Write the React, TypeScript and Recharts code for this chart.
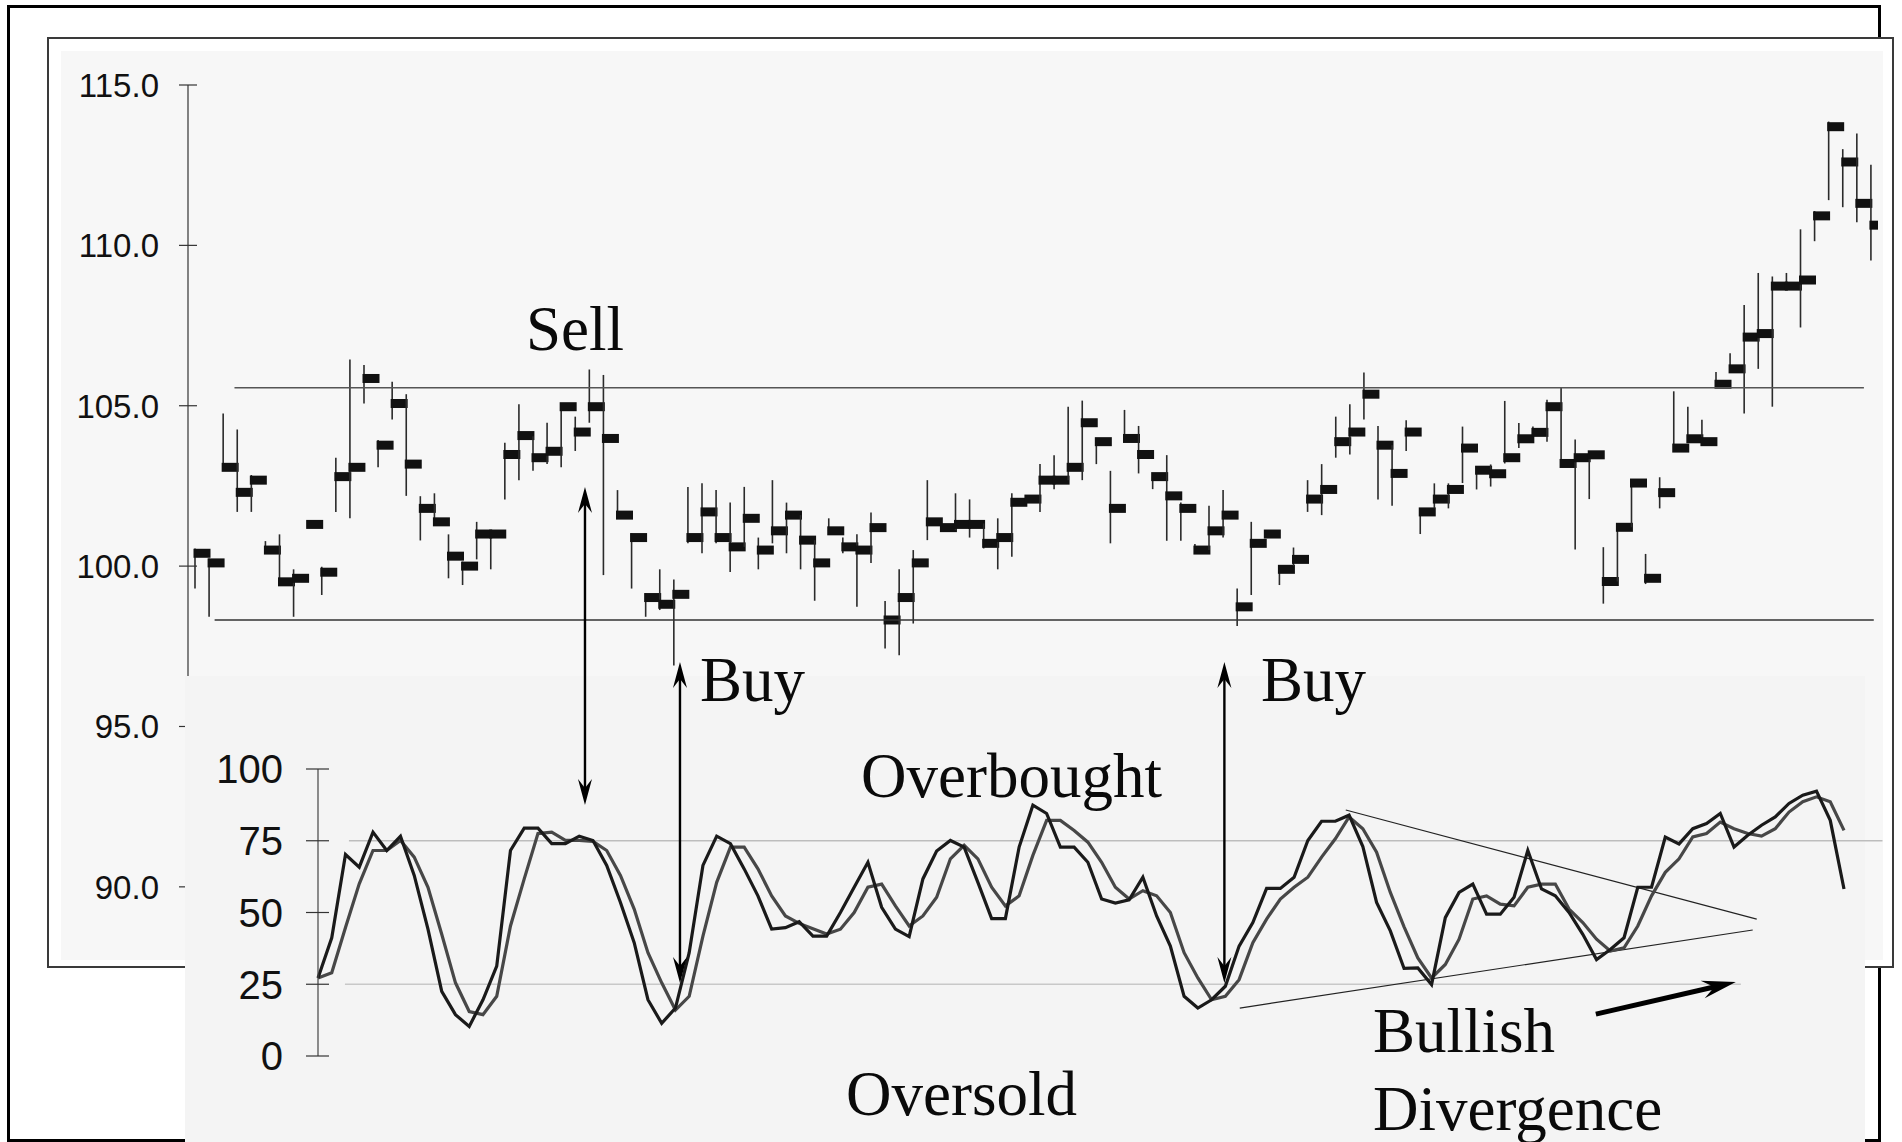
import React from 'react'
import { ComposedChart, Bar, LineChart, Line, XAxis, YAxis, ReferenceLine } from 'recharts'

// daily price bars: high / low / close
const HIGHS = [
  100.55, 100.24, 104.76, 104.26, 102.84, 100.78, 100.99, 99.9, 101.4, 99.98,
  103.38, 106.44, 106.27, 103.93, 105.75, 105.36, 102.18, 102.27, 100.99, 100.14,
  101.38, 101.12, 103.85, 105.05, 104.05, 104.47, 104.97, 104.66, 106.13, 105.96,
  102.37, 101.02, 99.15, 99.9, 99.58, 102.47, 102.58, 102.37, 101.98, 102.47,
  100.89, 102.68, 101.98, 101.59, 100.81, 101.49, 100.89, 100.99, 101.67, 98.91,
  99.9, 100.5, 102.68, 101.3, 102.27, 102.08, 101.33, 101.49, 102.27, 102.15,
  103.18, 103.46, 104.97, 105.16, 103.88, 102.97, 104.87, 104.37, 102.79, 103.46,
  101.98, 100.69, 101.88, 102.37, 99.3, 101.38, 101.1, 99.9, 100.58, 102.68,
  103.18, 104.66, 105.05, 106.04, 104.37, 103.77, 104.55, 101.8, 102.58, 102.58,
  104.35, 103.12, 103.17, 105.15, 104.46, 104.35, 105.19, 105.56, 103.95, 103.58,
  100.59, 101.21, 102.59, 100.38, 102.77, 105.45, 104.97, 104.56, 106.05, 106.64,
  108.14, 109.14, 109.03, 109.14, 110.5, 111.07, 113.86, 113.0, 113.49, 112.51,
]
const LOWS = [
  99.3, 98.42, 103.08, 101.69, 101.69, 100.5, 99.51, 98.42, 101.2, 99.1,
  101.69, 101.49, 105.07, 103.08, 104.57, 102.19, 100.8, 101.38, 99.62, 99.41,
  100.21, 99.9, 102.08, 102.68, 102.97, 103.18, 103.08, 103.59, 104.47, 99.72,
  101.59, 99.3, 98.42, 98.63, 96.9, 100.71, 100.4, 100.71, 99.82, 100.6,
  99.9, 100.71, 100.4, 99.9, 98.92, 101.1, 100.4, 98.73, 100.1, 97.43,
  97.22, 98.21, 100.81, 101.1, 101.12, 100.89, 100.55, 99.9, 100.29, 102.0,
  101.69, 102.4, 102.68, 102.68, 103.18, 100.71, 103.98, 102.89, 102.4, 100.79,
  100.79, 100.5, 100.5, 100.89, 98.13, 99.1, 100.9, 99.41, 100.0, 101.69,
  101.59, 103.38, 103.48, 104.57, 102.08, 101.88, 103.59, 101.0, 101.8, 101.8,
  102.59, 102.39, 102.48, 103.2, 103.68, 104.17, 103.88, 103.2, 100.52, 102.09,
  98.83, 99.52, 101.21, 99.44, 101.8, 103.68, 103.95, 103.88, 105.67, 106.15,
  104.76, 106.15, 104.97, 108.73, 107.44, 110.13, 111.41, 111.19, 110.72, 109.53,
]
const CLOSES = [
  100.4, 100.1, 103.08, 102.3, 102.68, 100.5, 99.51, 99.62, 101.3, 99.81,
  102.79, 103.08, 105.85, 103.77, 105.07, 103.18, 101.8, 101.38, 100.31, 100.0,
  101.0, 101.0, 103.48, 104.07, 103.38, 103.58, 104.97, 104.18, 104.97, 103.98,
  101.59, 100.89, 99.02, 98.81, 99.12, 100.89, 101.69, 100.89, 100.6, 101.49,
  100.5, 101.1, 101.59, 100.81, 100.1, 101.1, 100.6, 100.5, 101.2, 98.32,
  99.02, 100.1, 101.38, 101.2, 101.3, 101.3, 100.71, 100.89, 101.99, 102.09,
  102.68, 102.68, 103.08, 104.47, 103.88, 101.8, 103.98, 103.48, 102.79, 102.19,
  101.8, 100.5, 101.1, 101.59, 98.73, 100.71, 101.0, 99.9, 100.21, 102.09,
  102.39, 103.88, 104.18, 105.36, 103.77, 102.89, 104.18, 101.69, 102.09, 102.39,
  103.68, 102.99, 102.88, 103.38, 103.97, 104.17, 104.97, 103.2, 103.38, 103.47,
  99.52, 101.21, 102.59, 99.62, 102.29, 103.68, 103.97, 103.88, 105.67, 106.15,
  107.14, 107.25, 108.73, 108.73, 108.92, 110.92, 113.7, 112.6, 111.31, 110.63,
]
const PRICE_TICKS = [90, 95, 100, 105, 110, 115]
const RESISTANCE = 105.56
const SUPPORT = 98.32

// stochastic oscillator: %K (black) and %D (grey)
const STOCH_K = [
  27.2, 41.2, 70.2, 65.8, 78.0, 71.6, 76.6, 62.9, 44.2, 22.5,
  14.4, 10.3, 19.6, 31.3, 71.6, 79.4, 79.4, 74.0, 74.0, 76.6,
  75.1, 66.4, 53.5, 39.5, 19.6, 11.4, 16.7, 36.0, 66.4, 76.6,
  74.0, 65.2, 55.8, 44.2, 44.7, 46.8, 41.8, 41.8, 50.0, 58.8,
  67.5, 51.8, 44.2, 41.6, 61.7, 71.4, 75.1, 72.8, 60.5, 47.9,
  47.9, 72.8, 87.4, 84.5, 72.8, 72.8, 67.5, 54.7, 53.3, 54.4,
  62.3, 48.8, 38.3, 20.8, 16.7, 19.6, 24.3, 38.3, 46.5, 58.4,
  58.4, 62.3, 75.1, 81.8, 81.8, 83.9, 73.0, 53.5, 43.6, 30.5,
  30.7, 24.9, 48.2, 57.0, 59.9, 49.4, 49.4, 55.3, 71.6, 58.2,
  55.8, 50.0, 42.4, 33.6, 37.1, 41.2, 58.8, 58.8, 76.3, 73.9,
  79.2, 81.0, 84.5, 72.8, 76.9, 80.4, 83.3, 88.0, 90.9, 92.3,
  82.1, 58.2,
]
const STOCH_D = [
  27.2, 29.0, 44.8, 60.0, 71.6, 71.6, 75.1, 69.3, 58.8, 42.4,
  25.5, 15.5, 14.4, 20.8, 45.3, 61.7, 77.5, 78.0, 75.1, 75.1,
  74.8, 71.6, 62.9, 51.2, 36.0, 25.5, 16.0, 20.8, 41.8, 60.5,
  72.8, 72.8, 65.2, 55.8, 48.8, 46.2, 44.3, 42.5, 44.2, 50.0,
  58.8, 59.9, 52.3, 45.3, 48.8, 55.3, 68.7, 73.4, 68.7, 58.8,
  52.3, 55.8, 69.9, 82.1, 82.1, 78.6, 74.5, 67.5, 58.8, 54.7,
  57.6, 55.8, 50.0, 36.0, 27.2, 19.6, 20.8, 26.6, 39.5, 47.7,
  54.7, 58.8, 62.3, 69.3, 75.7, 83.3, 79.2, 71.0, 57.0, 45.0,
  34.2, 27.2, 31.9, 40.7, 54.7, 55.8, 52.9, 52.3, 58.8, 59.9,
  59.9, 51.2, 46.5, 40.7, 36.6, 37.7, 45.3, 55.8, 64.0, 68.7,
  76.3, 77.5, 81.5, 79.2, 77.5, 76.6, 79.2, 85.0, 88.6, 90.3,
  88.6, 78.6,
]
const STOCH_TICKS = [0, 25, 50, 75, 100]

// annotation segments, in stochastic chart units (x = bar index, y = oscillator value)
const SELL_ARROW = [{ x: 20.42, y: 198.3 }, { x: 20.42, y: 87.5 }]
const BUY_ARROW_1 = [{ x: 27.33, y: 137.3 }, { x: 27.33, y: 25.4 }]
const BUY_ARROW_2 = [{ x: 66.93, y: 137.3 }, { x: 66.93, y: 25.4 }]
const UPPER_TREND = [{ x: 75.76, y: 85.7 }, { x: 105.65, y: 47.7 }]
const LOWER_TREND = [{ x: 68.05, y: 16.7 }, { x: 105.36, y: 43.9 }]
const BULLISH_ARROW = [{ x: 93.95, y: 14.6 }, { x: 104.13, y: 25.8 }]

const LABELS = [
  { text: 'Sell', x: 526, y: 350 },
  { text: 'Buy', x: 700, y: 701 },
  { text: 'Buy', x: 1261, y: 701 },
  { text: 'Overbought', x: 861, y: 797 },
  { text: 'Oversold', x: 846, y: 1115 },
  { text: 'Bullish', x: 1373, y: 1052 },
  { text: 'Divergence', x: 1373, y: 1130 },
]

const priceData = HIGHS.map((h, idx) => ({
  i: idx + 1,
  range: [LOWS[idx], h],
  high: h,
  low: LOWS[idx],
  close: CLOSES[idx],
}))

const stochData = STOCH_K.map((k, idx) => ({ i: idx + 1, k, d: STOCH_D[idx] }))

const SANS = '"Liberation Sans", Arial, Helvetica, sans-serif'
const SERIF = '"Liberation Serif", "Times New Roman", serif'
const PRICE_AXIS_X = 188
const STOCH_AXIS_X = 318

function PriceBar(props: any) {
  const { x, y, width, height, payload } = props
  if (x == null || y == null) return null
  const cx = x + width / 2
  const top = Math.min(y, y + height)
  const bottom = Math.max(y, y + height)
  const span = payload.high - payload.low
  const cy = span > 0 ? top + ((payload.high - payload.close) / span) * (bottom - top) : top
  return (
    <g>
      <line x1={cx} x2={cx} y1={top} y2={bottom} stroke="#2b2b2b" strokeWidth={1.6} />
      <rect x={cx - 1.5} y={cy - 4.5} width={17} height={9} fill="#111" />
    </g>
  )
}

function PriceTick(props: any) {
  const { y, payload } = props
  return (
    <g>
      <line x1={PRICE_AXIS_X - 9} x2={PRICE_AXIS_X + 9} y1={y} y2={y} stroke="#333" strokeWidth={1.2} />
      <text x={PRICE_AXIS_X - 29} y={y} dy="0.36em" textAnchor="end" fontSize={33} fontFamily={SANS} fill="#111">
        {Number(payload.value).toFixed(1)}
      </text>
    </g>
  )
}

function StochTick(props: any) {
  const { y, payload } = props
  return (
    <g>
      <line x1={STOCH_AXIS_X - 12} x2={STOCH_AXIS_X + 11} y1={y} y2={y} stroke="#333" strokeWidth={1.2} />
      <text x={STOCH_AXIS_X - 35} y={y} dy="0.36em" textAnchor="end" fontSize={40} fontFamily={SANS} fill="#111">
        {payload.value}
      </text>
    </g>
  )
}

function headPoints(tx: number, ty: number, fx: number, fy: number, len: number, half: number, notch: number) {
  const dx = tx - fx
  const dy = ty - fy
  const d = Math.hypot(dx, dy) || 1
  const ux = dx / d
  const uy = dy / d
  const px = -uy
  const py = ux
  const bx = tx - ux * len
  const by = ty - uy * len
  const nx = tx - ux * notch
  const ny = ty - uy * notch
  return `${tx},${ty} ${bx + px * half},${by + py * half} ${nx},${ny} ${bx - px * half},${by - py * half}`
}

function DoubleArrow(props: any) {
  const { x1, y1, x2, y2 } = props
  const d = Math.hypot(x2 - x1, y2 - y1) || 1
  const ux = (x2 - x1) / d
  const uy = (y2 - y1) / d
  return (
    <g>
      <line x1={x1 + ux * 12} y1={y1 + uy * 12} x2={x2 - ux * 12} y2={y2 - uy * 12} stroke="#000" strokeWidth={2.4} />
      <polygon points={headPoints(x1, y1, x2, y2, 26, 7, 17)} fill="#000" />
      <polygon points={headPoints(x2, y2, x1, y1, 26, 7, 17)} fill="#000" />
    </g>
  )
}

function ThickArrow(props: any) {
  const { x1, y1, x2, y2 } = props
  const d = Math.hypot(x2 - x1, y2 - y1) || 1
  const ux = (x2 - x1) / d
  const uy = (y2 - y1) / d
  return (
    <g>
      <line x1={x1} y1={y1} x2={x2 - ux * 18} y2={y2 - uy * 18} stroke="#000" strokeWidth={5} />
      <polygon points={headPoints(x2, y2, x1, y1, 34, 9, 22)} fill="#000" />
    </g>
  )
}

export default function App() {
  return (
    <div style={{ position: 'absolute', left: 0, top: 0, width: 1902, height: 1142, background: '#fff', overflow: 'hidden' }}>
      {/* outer frame */}
      <div style={{ position: 'absolute', left: 7, top: 5, width: 1874, height: 1137, border: '3px solid #000', boxSizing: 'border-box' }} />

      {/* price panel */}
      <div style={{ position: 'absolute', left: 47, top: 37, width: 1847, height: 931, border: '2px solid #3a3a3a', boxSizing: 'border-box', background: '#fff' }} />
      <div style={{ position: 'absolute', left: 61, top: 51, width: 1822, height: 909, background: '#f7f7f7', overflow: 'hidden' }}>
        <div style={{ position: 'absolute', left: -61, top: -51 }}>
          <ComposedChart
            width={1878}
            height={960}
            data={priceData}
            margin={{ top: 85, right: 0, bottom: 9, left: 0 }}
            barCategoryGap={0}
            barGap={0}
          >
            <XAxis dataKey="i" hide />
            <XAxis xAxisId="n" type="number" dataKey="i" domain={[0.5, 120.5]} hide />
            <YAxis
              width={PRICE_AXIS_X}
              domain={[88, 115]}
              ticks={PRICE_TICKS}
              interval={0}
              tickLine={false}
              axisLine={{ stroke: '#333', strokeWidth: 1.2 }}
              tick={(p: any) => <PriceTick {...p} />}
            />
            <ReferenceLine
              xAxisId="n"
              segment={[{ x: 3.8, y: RESISTANCE }, { x: 119.5, y: RESISTANCE }]}
              stroke="#555"
              strokeWidth={1.5}
              ifOverflow="visible"
            />
            <ReferenceLine
              xAxisId="n"
              segment={[{ x: 2.39, y: SUPPORT }, { x: 120.2, y: SUPPORT }]}
              stroke="#333"
              strokeWidth={1.5}
              ifOverflow="visible"
            />
            <Bar dataKey="range" shape={(p: any) => <PriceBar {...p} />} isAnimationActive={false} />
          </ComposedChart>
        </div>
      </div>

      {/* stochastic panel */}
      <div style={{ position: 'absolute', left: 185, top: 676, width: 1680, height: 466, background: '#f4f4f4' }} />
      <div style={{ position: 'absolute', left: 0, top: 0 }}>
        <LineChart width={1902} height={1142} data={stochData} margin={{ top: 769, right: 58, bottom: 86, left: 0 }}>
          <XAxis dataKey="i" type="number" domain={[1, 112]} hide />
          <YAxis
            width={STOCH_AXIS_X}
            domain={[0, 100]}
            ticks={STOCH_TICKS}
            interval={0}
            tickLine={false}
            axisLine={{ stroke: '#444', strokeWidth: 1.2 }}
            tick={(p: any) => <StochTick {...p} />}
          />
          <ReferenceLine segment={[{ x: 3.25, y: 75 }, { x: 114.8, y: 75 }]} stroke="#bdbdbd" strokeWidth={1.5} ifOverflow="visible" />
          <ReferenceLine segment={[{ x: 2.96, y: 25 }, { x: 104.5, y: 25 }]} stroke="#c8c8c8" strokeWidth={1.5} ifOverflow="visible" />
          <ReferenceLine segment={UPPER_TREND} stroke="#222" strokeWidth={1.2} ifOverflow="visible" />
          <ReferenceLine segment={LOWER_TREND} stroke="#222" strokeWidth={1.2} ifOverflow="visible" />
          <Line type="linear" dataKey="d" stroke="#474747" strokeWidth={3.2} dot={false} isAnimationActive={false} />
          <Line type="linear" dataKey="k" stroke="#1a1a1a" strokeWidth={3.2} dot={false} isAnimationActive={false} />
          <ReferenceLine segment={SELL_ARROW} ifOverflow="visible" shape={(p: any) => <DoubleArrow {...p} />} />
          <ReferenceLine segment={BUY_ARROW_1} ifOverflow="visible" shape={(p: any) => <DoubleArrow {...p} />} />
          <ReferenceLine segment={BUY_ARROW_2} ifOverflow="visible" shape={(p: any) => <DoubleArrow {...p} />} />
          <ReferenceLine segment={BULLISH_ARROW} ifOverflow="visible" shape={(p: any) => <ThickArrow {...p} />} />
        </LineChart>
      </div>

      {/* text annotations */}
      <svg width={1902} height={1142} style={{ position: 'absolute', left: 0, top: 0, pointerEvents: 'none' }}>
        {LABELS.map((l, idx) => (
          <text key={idx} x={l.x} y={l.y} fontSize={63} fontFamily={SERIF} fill="#0a0a0a">
            {l.text}
          </text>
        ))}
      </svg>
    </div>
  )
}
